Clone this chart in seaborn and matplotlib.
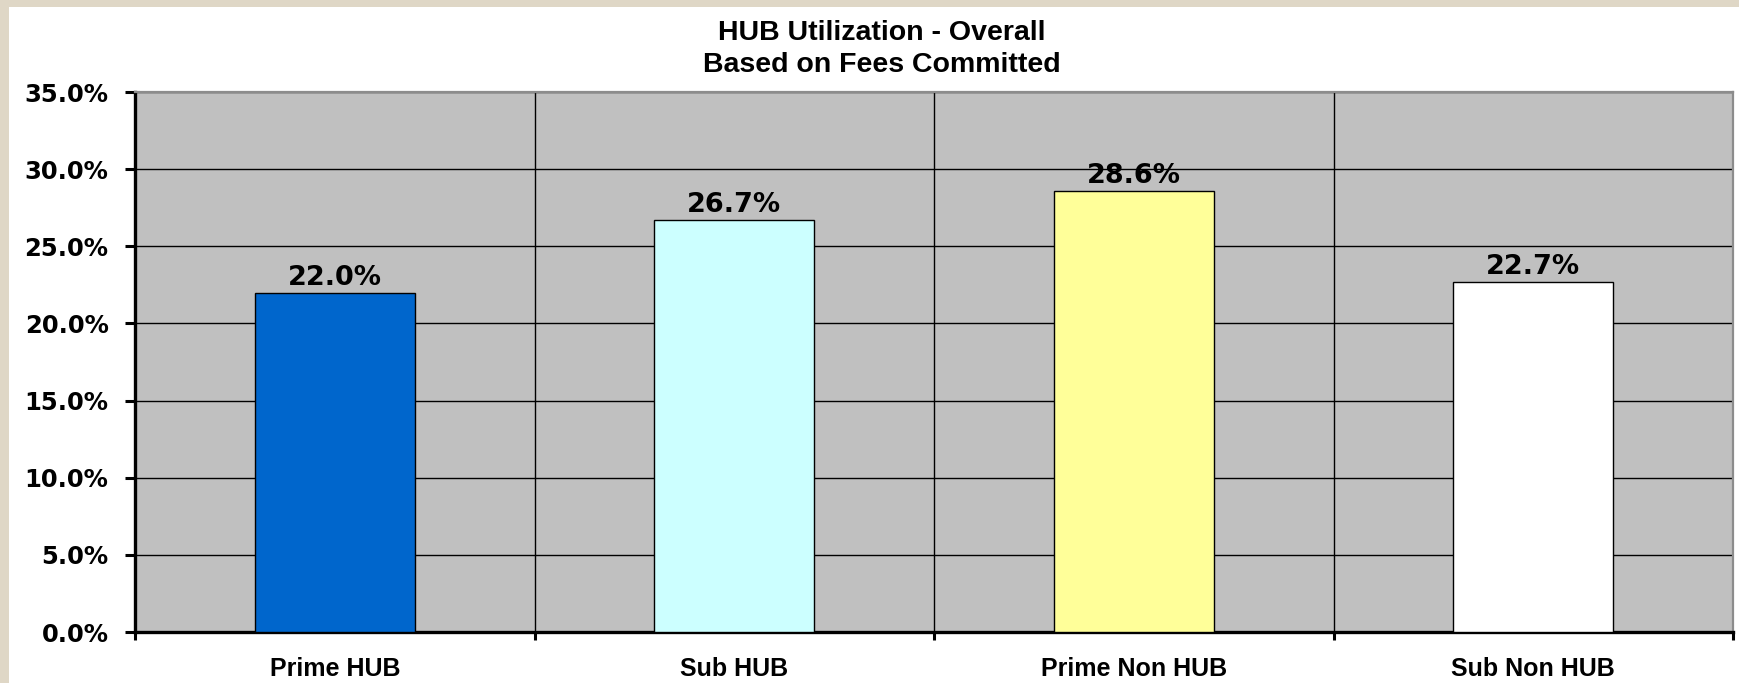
import matplotlib
matplotlib.use('Agg')
import matplotlib.pyplot as plt
import matplotlib.patches as mpatches
from matplotlib.ticker import FuncFormatter, FixedLocator
import numpy as np
import pandas as pd
import seaborn as sns

categories = ['Prime HUB', 'Sub HUB', 'Prime Non HUB', 'Sub Non HUB']
utilization = [22.0, 26.7, 28.6, 22.7]
bar_colors = ['#0066CC', '#CCFFFF', '#FFFF99', '#FFFFFF']

df = pd.DataFrame({'Category': categories, 'Utilization': utilization})

sns.set_theme(style='white')
plt.rcParams['font.family'] = ['Liberation Sans', 'DejaVu Sans']
plt.rcParams['font.weight'] = 'bold'
plt.rcParams['text.color'] = 'black'
plt.rcParams['xtick.labelcolor'] = 'black'
plt.rcParams['ytick.labelcolor'] = 'black'
num_font = ['DejaVu Sans']  # wider digits, closer to the reference numbers

fig = plt.figure(figsize=(17.39, 6.83), dpi=100)
fig.patch.set_facecolor('white')

# beige frame strips (left and top)
fig.patches.append(mpatches.Rectangle((0, 0), 9 / 1739, 1, transform=fig.transFigure,
                                      facecolor='#DFD7C6', edgecolor='none', zorder=0))
fig.patches.append(mpatches.Rectangle((0, 1 - 7 / 683), 1, 7 / 683, transform=fig.transFigure,
                                      facecolor='#DFD7C6', edgecolor='none', zorder=0))

ax = fig.add_axes([135 / 1739, 51 / 683, (1733 - 135) / 1739, (632 - 92) / 683])
ax.set_facecolor('#C0C0C0')

sns.barplot(data=df, x='Category', y='Utilization', hue='Category', palette=bar_colors,
            saturation=1, width=0.4, edgecolor='black', linewidth=1.0, legend=False,
            ax=ax, zorder=3)

ax.set_ylim(0, 35)
ax.set_xlim(-0.5, len(categories) - 0.5)
ax.set_yticks(np.arange(0, 35.1, 5))
ax.yaxis.set_major_formatter(FuncFormatter(lambda v, p: f'{v:.1f}%'))

# horizontal grid
ax.yaxis.grid(True, color='black', linewidth=1.0, zorder=1)
# vertical separators at category boundaries
ax.xaxis.set_minor_locator(FixedLocator(np.arange(-0.5, len(categories), 1.0)))
ax.xaxis.grid(True, which='minor', color='black', linewidth=1.0, zorder=1)
ax.xaxis.grid(False, which='major')
ax.set_axisbelow(True)

ax.tick_params(axis='x', which='major', length=0, pad=18, labelsize=18, labelcolor='black')
ax.tick_params(axis='x', which='minor', length=6, width=2.2, color='black', direction='out', bottom=True)
ax.tick_params(axis='y', which='major', length=7, width=2.2, color='black', direction='out',
               left=True, pad=12, labelsize=17.5, labelcolor='black')
for lab in ax.get_xticklabels():
    lab.set_fontweight('bold')
for lab in ax.get_yticklabels():
    lab.set_fontweight('bold')
    lab.set_family(num_font)

ax.set_xlabel('')
ax.set_ylabel('')

for side in ['left', 'bottom']:
    ax.spines[side].set_color('black')
    ax.spines[side].set_linewidth(2.4)
for side in ['top', 'right']:
    ax.spines[side].set_color('#8C8C8C')
    ax.spines[side].set_linewidth(1.6)

for i, val in enumerate(utilization):
    ax.text(i, val + 0.52, f'{val:.1f}%', ha='center', va='baseline',
            fontsize=19.5, fontweight='bold', color='black', family=num_font)

fig.text(882 / 1739, 1 - 33 / 683, 'HUB Utilization - Overall', ha='center', va='center',
         fontsize=20.5, fontweight='bold', color='black')
fig.text(882 / 1739, 1 - 65 / 683, 'Based on Fees Committed', ha='center', va='center',
         fontsize=20.5, fontweight='bold', color='black')

plt.savefig('out.png', dpi=100)
